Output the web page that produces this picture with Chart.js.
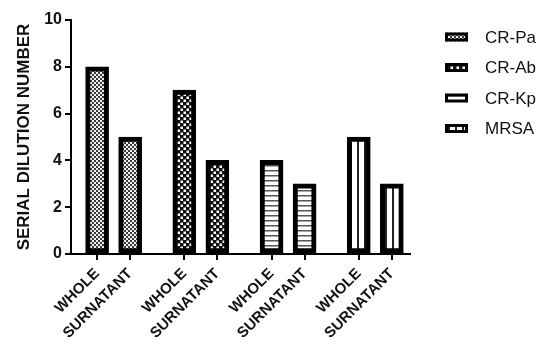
<!DOCTYPE html>
<html>
<head>
<meta charset="utf-8">
<script src="https://cdn.jsdelivr.net/npm/chart.js@4/dist/chart.umd.min.js"></script>
<style>
  html, body { margin: 0; padding: 0; background: #fff; }
  #wrap { width: 550px; height: 353px; position: relative; }
</style>
</head>
<body>
<div id="wrap"><canvas id="c" width="550" height="353"></canvas></div>
<script>
// ---- data ----
const memberLabels = ['WHOLE', 'SURNATANT'];
const seriesNames = ['CR-Pa', 'CR-Ab', 'CR-Kp', 'MRSA'];
const crPaValues = [8, 5];
const crAbValues = [7, 4];
const crKpValues = [4, 3];
const mrsaValues = [5, 3];
const yTicks = [0, 2, 4, 6, 8, 10];
const yTitle = 'SERIAL DILUTION NUMBER';

const seriesValues = [crPaValues, crAbValues, crKpValues, mrsaValues];

// ---- layout (category slots along a linear axis) ----
const GROUP_STEP = 2.64;
function slot(g, m) { return g * GROUP_STEP + m; }
const tickPositions = [];
const tickLabels = [];
seriesValues.forEach((vals, g) => vals.forEach((v, m) => {
  tickPositions.push(slot(g, m));
  tickLabels.push(memberLabels[m]);
}));

// ---- patterns ----
function makePattern(w, h, draw) {
  const c = document.createElement('canvas');
  c.width = w; c.height = h;
  const ctx = c.getContext('2d');
  draw(ctx, w, h);
  return ctx.createPattern(c, 'repeat');
}
const patterns = [
  // CR-Pa: fine checker
  makePattern(4, 4, (x) => {
    x.fillStyle = '#3a3a3a'; x.fillRect(0, 0, 4, 4);
    x.fillStyle = '#f2f2f2'; x.fillRect(0, 0, 2, 2); x.fillRect(2, 2, 2, 2);
  }),
  // CR-Ab: coarse checker
  makePattern(6, 6, (x) => {
    x.fillStyle = '#111'; x.fillRect(0, 0, 6, 6);
    x.fillStyle = '#fff'; x.fillRect(0.5, 0.5, 2.5, 2.5); x.fillRect(3.5, 3.5, 2.5, 2.5);
  }),
  // CR-Kp: horizontal lines
  makePattern(5, 5, (x) => {
    x.fillStyle = '#fff'; x.fillRect(0, 0, 5, 5);
    x.fillStyle = '#555'; x.fillRect(0, 0, 5, 1.5);
  }),
  // MRSA: vertical lines
  makePattern(7, 7, (x) => {
    x.fillStyle = '#fff'; x.fillRect(0, 0, 7, 7);
    x.fillStyle = '#222'; x.fillRect(0, 0, 2, 7);
  })
];

const datasets = seriesNames.map((name, g) => ({
  label: name,
  data: seriesValues[g].map((v, m) => ({ x: slot(g, m), y: v })),
  backgroundColor: patterns[g],
  borderColor: '#000',
  borderWidth: 5,
  borderSkipped: false,
  barThickness: 23
}));

// ---- custom legend ----
const legendPlugin = {
  id: 'sideLegend',
  afterDraw(chart) {
    const ctx = chart.ctx;
    ctx.save();
    chart.data.datasets.forEach((ds, i) => {
      const yc = 37 + i * 30.5;
      ctx.fillStyle = ds.backgroundColor;
      ctx.fillRect(445, yc - 4.5, 23, 9);
      ctx.strokeStyle = '#000';
      ctx.lineWidth = 3;
      ctx.strokeRect(446.5, yc - 3, 20, 6);
      ctx.fillStyle = '#111';
      ctx.font = '17px "Liberation Sans", Arial, sans-serif';
      ctx.textAlign = 'left';
      ctx.textBaseline = 'middle';
      ctx.fillText(ds.label, 485, yc + 1);
    });
    ctx.restore();
  }
};

new Chart(document.getElementById('c'), {
  type: 'bar',
  data: { datasets },
  plugins: [legendPlugin],
  options: {
    responsive: false,
    animation: false,
    grouped: false,
    layout: { padding: { top: 20, left: 0, right: 140, bottom: 0 } },
    plugins: { legend: { display: false }, tooltip: { enabled: false } },
    scales: {
      x: {
        type: 'linear',
        offset: false,
        min: -0.79,
        max: slot(3, 1) + 0.55,
        afterFit(s) { s.height = 99; },
        afterBuildTicks(s) { s.ticks = tickPositions.map(v => ({ value: v })); },
        grid: { offset: false, drawOnChartArea: false, drawTicks: true, tickLength: 6, color: '#000', lineWidth: 2 },
        border: { display: true, color: '#000', width: 2 },
        ticks: {
          autoSkip: false,
          minRotation: 45,
          maxRotation: 45,
          padding: 5,
          color: '#111',
          font: { family: '"Liberation Sans", Arial, sans-serif', size: 15, weight: 'bold' },
          callback: (v, i) => tickLabels[i]
        }
      },
      y: {
        min: 0,
        max: 10,
        afterFit(s) { s.width = 71; },
        afterBuildTicks(s) { s.ticks = yTicks.map(v => ({ value: v })); },
        grid: { drawOnChartArea: false, drawTicks: true, tickLength: 6, color: '#000', lineWidth: 2 },
        border: { display: true, color: '#000', width: 2 },
        ticks: {
          padding: 3,
          color: '#111',
          font: { family: '"Liberation Sans", Arial, sans-serif', size: 16, weight: 'bold' }
        },
        title: {
          display: true,
          text: yTitle,
          color: '#111',
          padding: { top: 14, bottom: 2 },
          font: { family: '"Liberation Sans", Arial, sans-serif', size: 17, weight: 'bold' }
        }
      }
    }
  }
});
</script>
</body>
</html>
